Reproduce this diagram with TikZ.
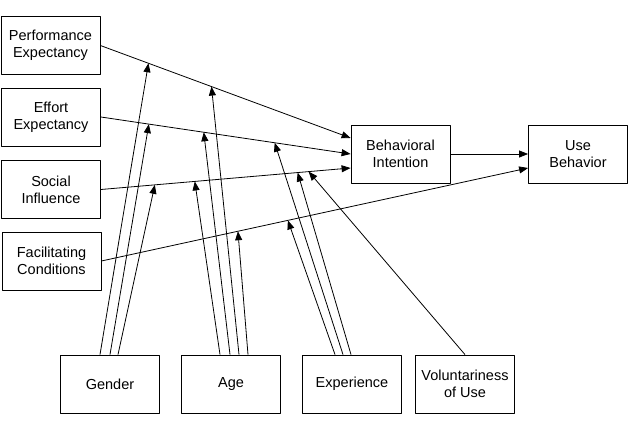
\documentclass[tikz,border=0pt]{standalone}
\usepackage{fontspec}
\setmainfont{Liberation Sans}
\usetikzlibrary{arrows.meta,calc}
\tikzset{
  box/.style={draw, minimum width=99pt, minimum height=58pt, inner sep=0pt, align=center},
}
\begin{document}
\begin{tikzpicture}[x=1pt, y=-1pt, line width=.8pt, line join=round,
    font=\fontsize{14.5}{17}\selectfont, >={Triangle[length=9pt,width=7pt]}]
  \useasboundingbox (0,0) rectangle (629,428);
  % determinants
  \node[box] (pe) at (50.5,45.5) {Performance\\Expectancy};
  \node[box] (ee) at (51,117) {Effort\\Expectancy};
  \node[box] (si) at (51,189.5) {Social\\Influence};
  \node[box] (fc) at (51.5,261) {Facilitating\\Conditions};
  % intention and use
  \node[box] (bi) at (400.5,154) {Behavioral\\Intention};
  \node[box] (ub) at (578,154) {Use\\Behavior};
  % moderators
  \node[box] (gen) at (110,384) {Gender};
  \node[box] (age) at (231,384) {Age};
  \node[box] (exp) at (352,384) {Experience};
  \node[box] (vol) at (465,384) {Voluntariness\\of Use};
  % main paths
  \coordinate (bi-pe) at ([yshift=16pt]bi.west);
  \coordinate (bi-si) at ([yshift=-14pt]bi.west);
  \coordinate (ub-fc) at ([yshift=-14pt]ub.west);
  \draw[->] (pe.east) -- (bi-pe);
  \draw[->] (ee.east) -- (bi.west);
  \draw[->] (si.east) -- (bi-si);
  \draw[->] (fc.east) -- (ub-fc);
  \draw[->] (bi) -- (ub);
  % where the moderators meet the paths
  \foreach \t/\n in {.192/g,.444/a}
    \coordinate (pe-\n) at ($(pe.east)!\t!(bi-pe)$);
  \foreach \t/\n in {.192/g,.412/a,.696/e}
    \coordinate (ee-\n) at ($(ee.east)!\t!(bi.west)$);
  \foreach \t/\n in {.216/g,.376/a,.788/e,.832/v}
    \coordinate (si-\n) at ($(si.east)!\t!(bi-si)$);
  \foreach \t/\n in {.320/a,.437/e}
    \coordinate (fc-\n) at ($(fc.east)!\t!(ub-fc)$);
  % moderating arrows
  \foreach \dx/\to in {-10/pe,0/ee,8/si}
    \draw[->] ([xshift=\dx pt]gen.north) -- (\to-g);
  \foreach \dx/\to in {-11/si,-1/ee,8/pe,17/fc}
    \draw[->] ([xshift=\dx pt]age.north) -- (\to-a);
  \foreach \dx/\to in {-17/fc,-9/ee,-1/si}
    \draw[->] ([xshift=\dx pt]exp.north) -- (\to-e);
  \draw[->] (vol.north) -- (si-v);
\end{tikzpicture}
\end{document}
